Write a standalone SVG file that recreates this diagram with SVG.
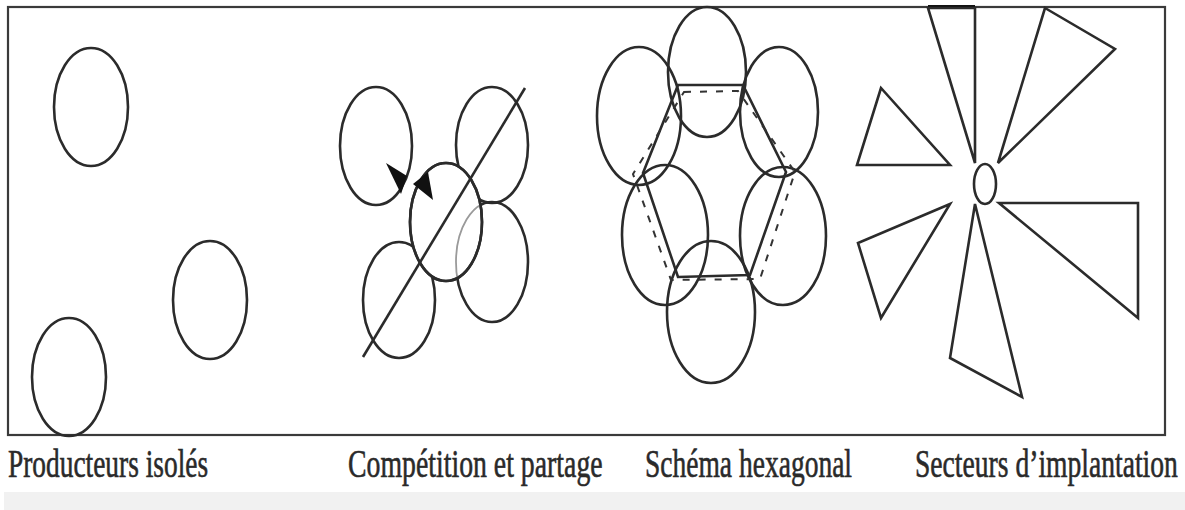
<svg xmlns="http://www.w3.org/2000/svg" width="1185" height="510" viewBox="0 0 1185 510">
  <style>
    .ln { fill: none; stroke: #2b2b2b; stroke-width: 2.6; }
    .tri { fill: none; stroke: #2b2b2b; stroke-width: 2.6; stroke-linejoin: miter; }
    .dash { fill: none; stroke: #333; stroke-width: 2; stroke-dasharray: 7 9; }
    .lbl { font-family: "Liberation Serif", "Times New Roman", serif; font-size: 40px; fill: #2a2a2a; stroke: #2a2a2a; stroke-width: 0.6; }
  </style>
  <defs>
    <clipPath id="cc"><ellipse cx="446" cy="222" rx="36" ry="59"/></clipPath>
  </defs>
  <rect x="0" y="0" width="1185" height="510" fill="#ffffff"/>
  <rect x="4" y="492" width="1181" height="18" fill="#f1f1f1"/>
  <rect id="frame" x="8" y="7" width="1157" height="428" fill="none" stroke="#3a3a3a" stroke-width="2.2"/>

  <g id="producteurs-isoles">
    <ellipse class="ln" cx="91" cy="107" rx="37" ry="59"/>
    <ellipse class="ln" cx="210" cy="300" rx="37" ry="59"/>
    <ellipse class="ln" cx="69" cy="377" rx="37" ry="59"/>
  </g>

  <g id="competition-et-partage">
    <ellipse class="ln" cx="376" cy="146" rx="36" ry="59"/>
    <ellipse class="ln" cx="492" cy="145" rx="36" ry="58"/>
    <ellipse class="ln" cx="399" cy="300" rx="36" ry="58"/>
    <ellipse class="ln" cx="492" cy="262" rx="36" ry="60"/>
    <ellipse cx="446" cy="222" rx="36" ry="59" fill="#fff" stroke="#2b2b2b" stroke-width="2.6"/>
    <ellipse cx="492" cy="262" rx="36" ry="60" fill="none" stroke="#9a9a9a" stroke-width="1.8" clip-path="url(#cc)"/>
    <ellipse class="ln" cx="446" cy="222" rx="36" ry="59"/>
    <line class="ln" x1="363" y1="357" x2="525" y2="88"/>
    <polygon points="386,163 407,176 401,194" fill="#111"/>
    <polygon points="413,184 428,172 433,200" fill="#111"/>
  </g>

  <g id="schema-hexagonal">
    <ellipse class="ln" cx="707" cy="72" rx="39" ry="65"/>
    <ellipse class="ln" cx="639" cy="116" rx="42" ry="69"/>
    <ellipse class="ln" cx="779" cy="112" rx="39" ry="65"/>
    <ellipse class="ln" cx="665" cy="235" rx="43" ry="70"/>
    <ellipse class="ln" cx="783" cy="236" rx="43" ry="69"/>
    <ellipse class="ln" cx="711" cy="312" rx="44" ry="71"/>
    <polygon class="ln" points="678,85 743,85 786,172 750,275 678,277 643,173"/>
    <polygon class="dash" points="684,92 738,91 795,172 760,279 671,280 633,174"/>
  </g>

  <g id="secteurs-implantation">
    <line x1="928" y1="7" x2="975" y2="7" stroke="#111" stroke-width="4"/>
    <ellipse class="ln" cx="985" cy="184" rx="11" ry="20"/>
    <polygon class="tri" points="928,8 975,8 975,163"/>
    <polygon class="tri" points="1045,8 1115,49 998,163"/>
    <polygon class="tri" points="881,88 857,165 950,165"/>
    <polygon class="tri" points="999,203 1138,203 1138,318"/>
    <polygon class="tri" points="950,204 858,243 881,318"/>
    <polygon class="tri" points="975,204 950,358 1022,397"/>
  </g>

  <g id="labels">
    <text class="lbl" transform="translate(8,477) scale(0.69,1)" x="0" y="0" textLength="290" lengthAdjust="spacingAndGlyphs">Producteurs isolés</text>
    <text class="lbl" transform="translate(348,477) scale(0.69,1)" x="0" y="0" textLength="369" lengthAdjust="spacingAndGlyphs">Compétition et partage</text>
    <text class="lbl" transform="translate(645,477) scale(0.69,1)" x="0" y="0" textLength="300" lengthAdjust="spacingAndGlyphs">Schéma hexagonal</text>
    <text class="lbl" transform="translate(915,477) scale(0.69,1)" x="0" y="0" textLength="381" lengthAdjust="spacingAndGlyphs">Secteurs d’implantation</text>
  </g>
</svg>
